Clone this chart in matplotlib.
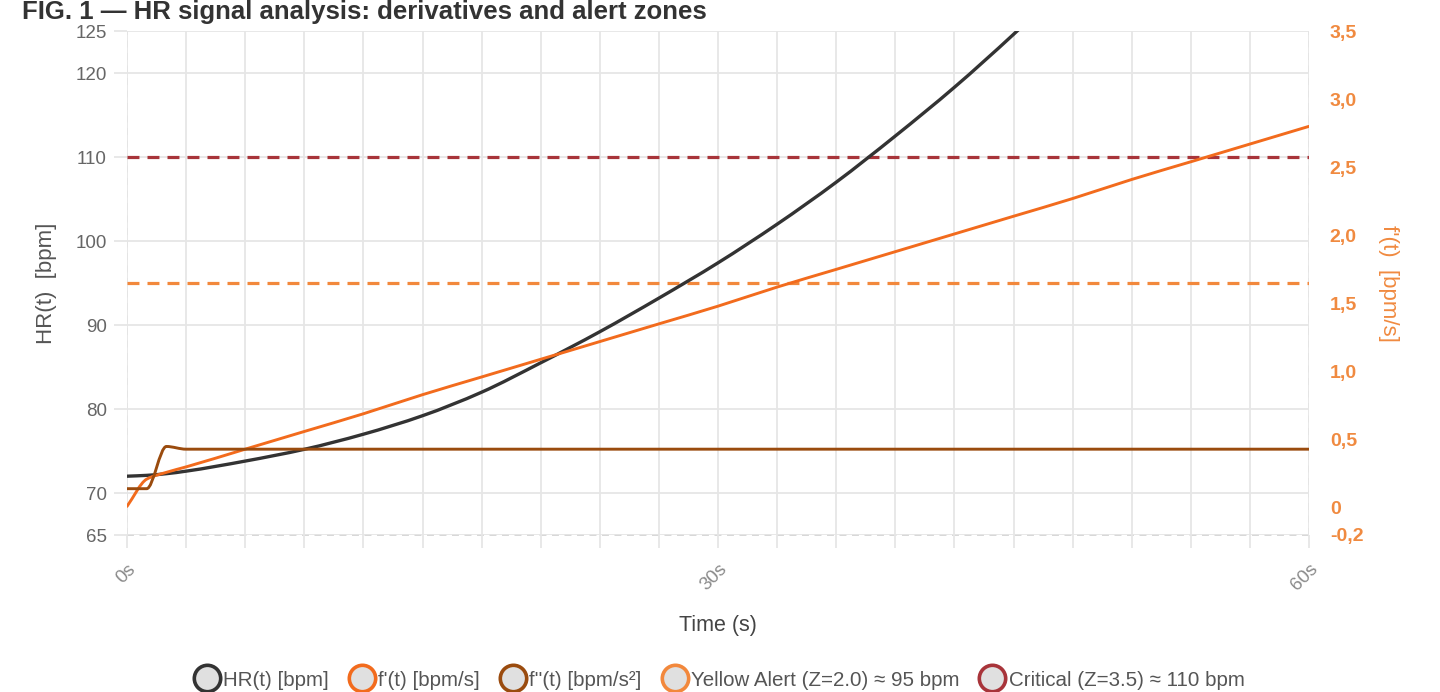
import matplotlib
matplotlib.use("Agg")
import matplotlib.pyplot as plt
import numpy as np
from matplotlib.lines import Line2D
from matplotlib.path import Path
from matplotlib.patches import PathPatch

plt.rcParams['font.family'] = ['Liberation Sans', 'DejaVu Sans']
plt.rcParams['lines.scale_dashes'] = False

# ---- data ----
time_s = [0, 1, 2, 3, 6, 9, 12, 15, 18, 21, 24, 27, 30, 33, 36, 39, 42, 45, 48, 51, 54, 57, 60]
hr_bpm = [72.0, 72.1, 72.3, 72.6, 73.8, 75.2, 77.0, 79.2, 82.0, 85.5, 89.2, 93.2, 97.4,
          102.0, 107.0, 112.5, 118.3, 124.6, 131.3, 138.4, 145.9, 153.8, 162.1]
d1_bpm_s = [0.01, 0.21, 0.26, 0.30, 0.43, 0.56, 0.69, 0.83, 0.96, 1.09, 1.22, 1.35, 1.48,
            1.62, 1.75, 1.88, 2.01, 2.14, 2.27, 2.41, 2.54, 2.67, 2.80]
d2_bpm_s2 = [0.14, 0.14, 0.45, 0.43, 0.43, 0.43, 0.43, 0.43, 0.43, 0.43, 0.43, 0.43, 0.43,
             0.43, 0.43, 0.43, 0.43, 0.43, 0.43, 0.43, 0.43, 0.43, 0.43]
yellow_alert = 95
critical_alert = 110

x_ticks = list(range(0, 61, 3))
x_labels = ['0s' if t == 0 else '30s' if t == 30 else '60s' if t == 60 else '' for t in x_ticks]
left_ticks = [65, 70, 80, 90, 100, 110, 120, 125]
right_ticks = [-0.2, 0, 0.5, 1.0, 1.5, 2.0, 2.5, 3.0, 3.5]
right_labels = ['-0,2', '0', '0,5', '1,0', '1,5', '2,0', '2,5', '3,0', '3,5']

series_labels = ["HR(t) [bpm]", "f'(t) [bpm/s]", "f''(t) [bpm/s²]",
                 "Yellow Alert (Z=2.0) ≈ 95 bpm", "Critical (Z=3.5) ≈ 110 bpm"]

# ---- style ----
c_hr = '#333333'
c_d1 = '#f26b1d'
c_d2 = '#9a4b0e'
c_yel = '#f2883c'
c_crit = '#a8343a'
c_grid = '#e6e6e6'
c_tick = '#666666'
c_rtick = '#f08a40'


def smooth_line(axis, xs, ys, color, lw, z=3):
    """Draw a line through the data points as a monotone cubic (Chart.js 'monotone' style)."""
    x = np.asarray(xs, float)
    y = np.asarray(ys, float)
    n = len(x)
    h = np.diff(x)
    delta = np.diff(y) / h
    m = np.zeros(n)
    m[0] = delta[0]
    m[-1] = delta[-1]
    for i in range(1, n - 1):
        if delta[i - 1] * delta[i] <= 0:
            m[i] = 0.0
        else:
            w1 = 2 * h[i] + h[i - 1]
            w2 = h[i] + 2 * h[i - 1]
            m[i] = (w1 + w2) / (w1 / delta[i - 1] + w2 / delta[i])
    verts = [(x[0], y[0])]
    codes = [Path.MOVETO]
    for i in range(n - 1):
        d = h[i] / 3.0
        verts += [(x[i] + d, y[i] + m[i] * d), (x[i + 1] - d, y[i + 1] - m[i + 1] * d),
                  (x[i + 1], y[i + 1])]
        codes += [Path.CURVE4] * 3
    patch = PathPatch(Path(verts, codes), fill=False, edgecolor=color, lw=lw,
                      zorder=z, capstyle='round', joinstyle='round')
    axis.add_patch(patch)


fig = plt.figure(figsize=(14.4, 6.92), dpi=100)
ax = fig.add_axes([127/1440, 1-535/692, (1309-127)/1440, (535-31)/692])
ax2 = ax.twinx()

ax.set_xlim(0, 60)
ax.set_ylim(65, 125)
ax2.set_xlim(0, 60)
ax2.set_ylim(-0.2, 3.5)

# grid / ticks
ax.set_xticks(x_ticks)
ax.set_xticklabels(x_labels, rotation=45, ha='right', rotation_mode='anchor',
                   color='#8a8a8a', fontsize=13.5)
ax.set_yticks(left_ticks)
ax.set_yticklabels([str(v) for v in left_ticks], color=c_tick, fontsize=13.5)
ax.grid(True, color=c_grid, lw=1.3)
ax.tick_params(axis='x', length=9.5, width=1.3, color=c_grid, pad=9)
ax.tick_params(axis='y', length=9.5, width=1.3, color=c_grid, pad=5)
ax.set_axisbelow(True)

ax2.set_yticks(right_ticks)
ax2.set_yticklabels(right_labels, color=c_rtick, fontsize=14, fontweight='bold')
ax2.tick_params(axis='y', length=0, pad=15)

for a in (ax, ax2):
    for s in a.spines.values():
        s.set_visible(False)
for xv in (0, 60):
    ax.axvline(xv, color='#d4d4d4', lw=1.3, ls=(0, (5, 4)), zorder=0.5)
ax.axhline(65, color='#d4d4d4', lw=1.3, ls=(0, (5, 4)), zorder=0.5, clip_on=False)

# alert lines
ax.axhline(yellow_alert, color=c_yel, lw=2.3, ls=(0, (8.6, 5.8)), zorder=2)
ax.axhline(critical_alert, color=c_crit, lw=2.3, ls=(0, (8.6, 5.8)), zorder=2)

# series
smooth_line(ax, time_s, hr_bpm, c_hr, 2.4)
smooth_line(ax2, time_s, d1_bpm_s, c_d1, 2.1)
smooth_line(ax2, time_s, d2_bpm_s2, c_d2, 2.1)

ax.set_ylabel("HR(t)  [bpm]", color='#555555', fontsize=16, labelpad=13)
ax2.set_ylabel("f'(t)  [bpm/s]", color=c_rtick, fontsize=16, rotation=270, labelpad=26)
ax.set_xlabel("Time (s)", color='#444444', fontsize=15.5, labelpad=15)

fig.text(22/1440, 1-19/692, "FIG. 1 — HR signal analysis: derivatives and alert zones",
         fontsize=18.5, fontweight='bold', color='#333333', va='baseline', ha='left')

colors = [c_hr, c_d1, c_d2, c_yel, c_crit]
handles = [Line2D([], [], ls='none', marker='o', markersize=19, markerfacecolor='#e0e0e0',
                  markeredgecolor=c, markeredgewidth=2.6) for c in colors]
fig.legend(handles, series_labels, loc='center', bbox_to_anchor=(718/1440, 1-680/692),
           ncol=5, frameon=False, fontsize=14.8, handletextpad=0.05, columnspacing=0.85,
           labelcolor='#555555', handlelength=1.5)

fig.savefig('out.png', dpi=100)
